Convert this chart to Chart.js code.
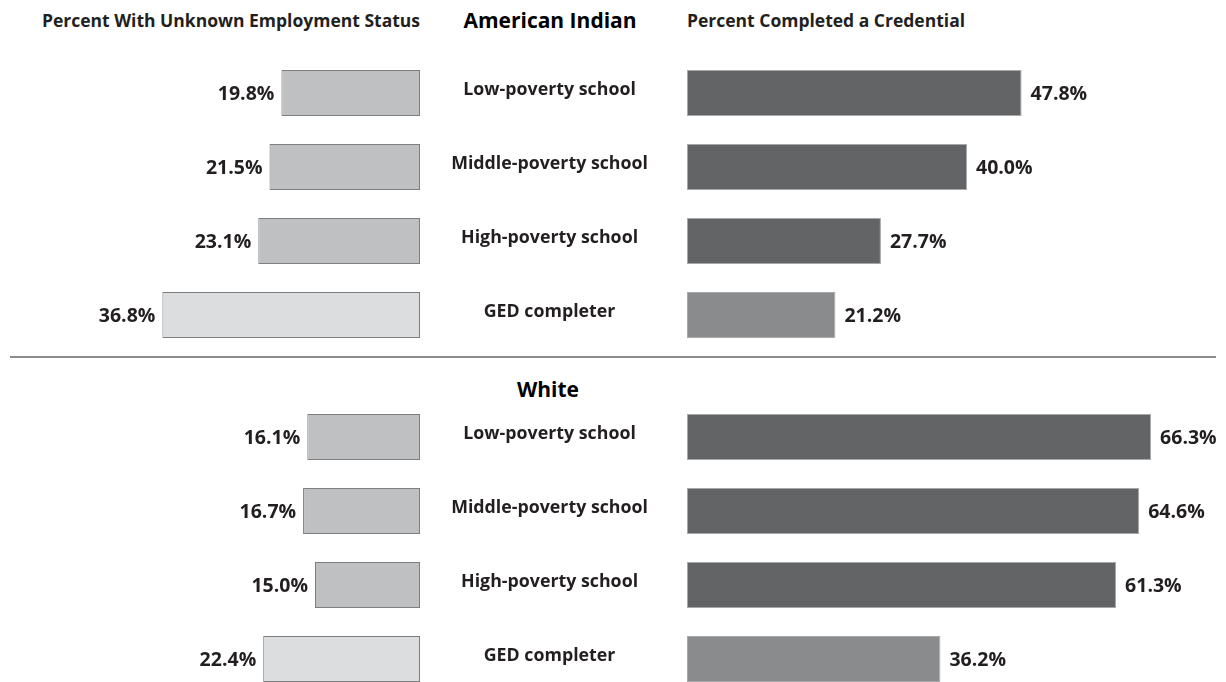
<!DOCTYPE html>
<html>
<head>
<meta charset="utf-8">
<script src="https://cdn.jsdelivr.net/npm/chart.js@4.4.1/dist/chart.umd.min.js"></script>
<style>
  body { margin: 0; width: 1226px; height: 682px; overflow: hidden; background: #fff; position: relative;
         font-family: "Open Sans", sans-serif; color: #231f20; }
  .box { position: absolute; }
  .head { position: absolute; font-weight: 700; font-size: 17.5px; white-space: nowrap; line-height: 20px; }
  .group { position: absolute; font-weight: 700; font-size: 21px; color: #000; white-space: nowrap;
           line-height: 24px; width: 300px; text-align: center; }
  .rule { position: absolute; left: 10px; width: 1206px; top: 356px; height: 2px; background: #8c8c8c; }
</style>
</head>
<body>
<div class="head" style="right:806px; top:10px;">Percent With Unknown Employment Status</div>
<div class="head" style="left:687px; top:10px;">Percent Completed a Credential</div>
<div class="group" style="left:400px; top:8px;">American Indian</div>
<div class="rule"></div>
<div class="group" style="left:398px; top:377px;">White</div>

<div class="box" style="left:0; top:56px; width:421px; height:296px;"><canvas id="leftTop"></canvas></div>
<div class="box" style="left:420px; top:56px; width:806px; height:296px;"><canvas id="rightTop"></canvas></div>
<div class="box" style="left:0; top:400px; width:421px; height:296px;"><canvas id="leftBottom"></canvas></div>
<div class="box" style="left:420px; top:400px; width:806px; height:296px;"><canvas id="rightBottom"></canvas></div>

<script>
const categories = ['Low-poverty school', 'Middle-poverty school', 'High-poverty school', 'GED completer'];

// American Indian
const unknownAmInd = [19.8, 21.5, 23.1, 36.8];
const credentialAmInd = [47.8, 40.0, 27.7, 21.2];

// White
const unknownWhite = [16.1, 16.7, 15.0, 22.4];
const credentialWhite = [66.3, 64.6, 61.3, 36.2];

const leftColors = ['#bfc0c2', '#bfc0c2', '#bfc0c2', '#dcdddf'];
const rightColors = ['#636466', '#636466', '#636466', '#8a8b8d'];

const labelFont = '700 19.5px "Open Sans", sans-serif';

// draws "19.8%" next to the end of each bar
const valueLabels = {
    id: 'valueLabels',
    afterDatasetsDraw(chart, args, opts) {
        const ctx = chart.ctx;
        const meta = chart.getDatasetMeta(0);
        const values = chart.data.datasets[0].data;
        ctx.save();
        ctx.font = labelFont;
        ctx.fillStyle = '#231f20';
        ctx.textBaseline = 'middle';
        meta.data.forEach((bar, i) => {
            const txt = values[i].toFixed(1) + '%';
            if (opts.side === 'left') {
                ctx.textAlign = 'right';
                ctx.fillText(txt, bar.x - 7, bar.y + 1);
            } else {
                ctx.textAlign = 'left';
                ctx.fillText(txt, bar.x + 9, bar.y + 1);
            }
        });
        ctx.restore();
    }
};

function leftChart(id, values) {
    return new Chart(document.getElementById(id), {
        type: 'bar',
        data: {
            labels: categories,
            datasets: [{
                data: values,
                backgroundColor: leftColors,
                borderColor: '#7d7e80',
                borderWidth: 1,
                borderSkipped: false,
                barPercentage: 0.62,
                categoryPercentage: 1
            }]
        },
        options: {
            indexAxis: 'y',
            responsive: true,
            maintainAspectRatio: false,
            animation: false,
            layout: { padding: { right: 1 } },
            scales: {
                x: { reverse: true, min: 0, max: 60, display: false },
                y: { display: false }
            },
            plugins: {
                legend: { display: false },
                tooltip: { enabled: false },
                valueLabels: { side: 'left' }
            }
        },
        plugins: [valueLabels]
    });
}

function rightChart(id, values) {
    return new Chart(document.getElementById(id), {
        type: 'bar',
        data: {
            labels: categories,
            datasets: [{
                data: values,
                backgroundColor: rightColors,
                borderColor: '#a7a8aa',
                borderWidth: 1,
                borderSkipped: false,
                barPercentage: 0.62,
                categoryPercentage: 1
            }]
        },
        options: {
            indexAxis: 'y',
            responsive: true,
            maintainAspectRatio: false,
            animation: false,
            scales: {
                x: { min: 0, max: 77, display: false },
                y: {
                    position: 'left',
                    grid: { display: false, drawTicks: false },
                    border: { display: false },
                    ticks: {
                        crossAlign: 'center',
                        padding: 39,
                        labelOffset: -3,
                        color: '#231f20',
                        font: { family: '"Open Sans", sans-serif', size: 17.8, weight: '700' }
                    },
                    afterFit(scale) {
                        scale.width = 267;
                        // keep the tick padding from shrinking the bar area
                        scale.paddingTop = 0;
                        scale.paddingBottom = 0;
                    }
                }
            },
            plugins: {
                legend: { display: false },
                tooltip: { enabled: false },
                valueLabels: { side: 'right' }
            }
        },
        plugins: [valueLabels]
    });
}

leftChart('leftTop', unknownAmInd);
rightChart('rightTop', credentialAmInd);
leftChart('leftBottom', unknownWhite);
rightChart('rightBottom', credentialWhite);
</script>
</body>
</html>
